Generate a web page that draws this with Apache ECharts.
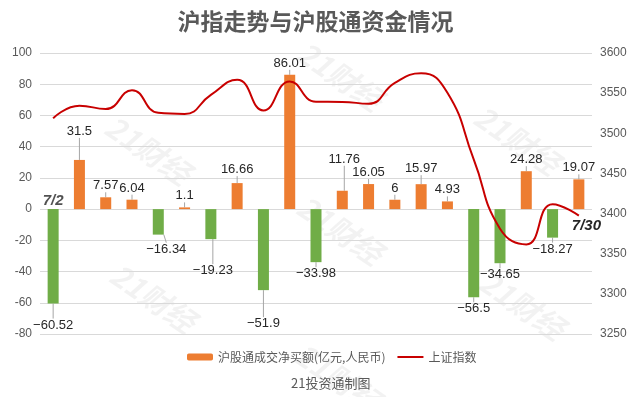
<!DOCTYPE html>
<html>
<head>
<meta charset="utf-8">
<script src="https://cdn.jsdelivr.net/npm/echarts@6/dist/echarts.min.js"></script>
<style>
html, body { margin: 0; padding: 0; background: #fff; }
#main { width: 631px; height: 397px; }
</style>
</head>
<body>
<div id="main"></div>
<script>
// 日期
var dates = ['7/2', '7/5', '7/6', '7/7', '7/8', '7/9', '7/12', '7/13', '7/14', '7/15', '7/16',
	'7/19', '7/20', '7/21', '7/22', '7/23', '7/26', '7/27', '7/28', '7/29', '7/30'];
// 沪股通成交净买额(亿元)
var netBuy = [-60.52, 31.5, 7.57, 6.04, -16.34, 1.1, -19.23, 16.66, -51.9, 86.01, -33.98,
	11.76, 16.05, 6, 15.97, 4.93, -56.5, -34.65, 24.28, -18.27, 19.07];
// 上证指数收盘
var shIndex = [3518.76, 3534.32, 3530.26, 3553.72, 3525.50, 3524.09, 3547.84, 3566.59, 3528.50, 3564.59, 3539.30,
	3539.12, 3536.79, 3562.71, 3574.73, 3550.40, 3467.44, 3381.18, 3361.59, 3411.72, 3397.36];
// 坐标轴刻度
var leftTicks = { min: -80, max: 100, step: 20 };
var rightTicks = { min: 3250, max: 3600, step: 50 };

var textFont = '"Liberation Sans", "Noto Sans CJK SC", sans-serif';
var cjkFont = '"Noto Sans CJK SC", sans-serif';
var greyText = '#595959';
var barName = '沪股通成交净买额(亿元,人民币)';
var lineName = '上证指数';

// 个别标签的偏移 (dx, dy)
var labelShift = {
	0: [0, 10], 1: [0, -17], 4: [8, 3], 6: [2, 20], 7: [0, -2],
	8: [0, 22], 11: [2, -20], 14: [0, -4]
};

var barData = netBuy.map(function (v) {
	return { value: v, label: { position: v < 0 ? 'bottom' : 'top' } };
});

// 水印
var marks = [[148, 150], [153, 298], [340, 76], [340, 230], [338, 378], [517, 140], [522, 305]];
var graphics = marks.map(function (p) {
	return {
		type: 'text', x: p[0], y: p[1], rotation: -0.6, z: 0, silent: true,
		style: {
			text: '21财经', fill: 'rgba(0,0,0,0.05)', font: 'italic bold 30px ' + cjkFont,
			align: 'center', verticalAlign: 'middle'
		}
	};
});

var chart = echarts.init(document.getElementById('main'));
var option = {
	animation: false,
	backgroundColor: '#fff',
	title: [{
		text: '沪指走势与沪股通资金情况',
		left: 'center', top: 5,
		textStyle: { fontSize: 23, fontWeight: 'bold', color: greyText, fontFamily: cjkFont }
	}, {
		text: '21投资通制图',
		left: 286, top: 372,
		textStyle: { fontSize: 13, fontWeight: 'normal', color: greyText, fontFamily: cjkFont }
	}],
	legend: {
		data: [
			{ name: barName, itemStyle: { color: '#ED7D31' } },
			{ name: lineName, itemStyle: { color: 'rgba(0,0,0,0)', borderWidth: 0 } }
		],
		left: 182, top: 346,
		itemWidth: 26, itemHeight: 7, itemGap: 11,
		textStyle: { fontSize: 12, color: greyText, fontFamily: cjkFont }
	},
	graphic: graphics,
	grid: { left: 40, right: 39, top: 53, bottom: 63 },
	xAxis: {
		type: 'category', data: dates,
		axisLine: { show: false }, axisTick: { show: false }, axisLabel: { show: false }
	},
	yAxis: [{
		type: 'value', min: leftTicks.min, max: leftTicks.max, interval: leftTicks.step,
		axisLine: { show: false }, axisTick: { show: false },
		axisLabel: { color: greyText, fontSize: 12, fontFamily: textFont, margin: 8 },
		splitLine: { lineStyle: { color: '#d9d9d9' } }
	}, {
		type: 'value', min: rightTicks.min, max: rightTicks.max, interval: rightTicks.step,
		axisLine: { show: false }, axisTick: { show: false },
		axisLabel: {
			color: greyText, fontSize: 12, fontFamily: textFont, margin: 8,
			formatter: function (v) { return String(v); }
		},
		splitLine: { show: false }
	}],
	series: [{
		name: barName,
		type: 'bar',
		barWidth: 11,
		data: barData,
		itemStyle: {
			color: function (p) { return p.value < 0 ? '#70AD47' : '#ED7D31'; }
		},
		label: {
			show: true, distance: 5,
			color: '#262626', fontSize: 13, fontFamily: textFont,
			formatter: function (p) { return String(p.value).replace('-', '\u2212'); }
		},
		labelLine: { show: true, lineStyle: { color: '#a6a6a6', width: 1 } },
		labelLayout: function (p) {
			var s = labelShift[p.dataIndex];
			return s ? { dx: s[0], dy: s[1] } : {};
		}
	}, {
		name: lineName,
		type: 'line',
		yAxisIndex: 1,
		data: shIndex,
		smooth: true,
		symbol: 'none',
		z: 5,
		lineStyle: { color: '#C80000', width: 2 },
		itemStyle: { color: '#C80000' },
		endLabel: {
			show: true, distance: 5, offset: [-12, 10],
			formatter: function () { return dates[dates.length - 1]; },
			color: '#262626', fontSize: 15, fontWeight: 'bold', fontStyle: 'italic', fontFamily: textFont
		}
	}, {
		// 起始日期标注
		name: 'dateTag',
		type: 'scatter',
		symbolSize: 0,
		data: dates.map(function (d, i) { return i == 0 ? 0 : null; }),
		label: {
			show: true, position: 'top', distance: 1,
			formatter: '{b}',
			color: '#262626', fontSize: 15, fontWeight: 'bold', fontStyle: 'italic', fontFamily: textFont
		},
		silent: true
	}]
};
chart.setOption(option);
</script>
</body>
</html>
